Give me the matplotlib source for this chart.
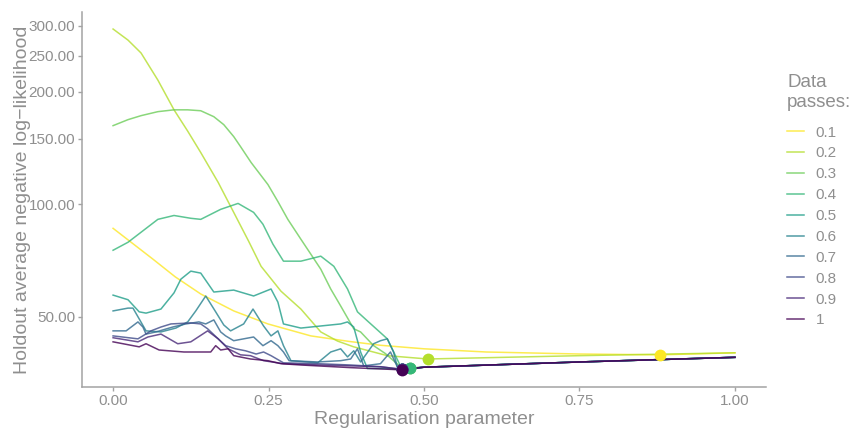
import numpy as np
import matplotlib
matplotlib.use("Agg")
import matplotlib.pyplot as plt

plt.rcParams['font.family'] = ['Liberation Sans', 'DejaVu Sans']

# data passes and their colours (viridis, reversed so 0.1 is yellow)
passes = ['0.1', '0.2', '0.3', '0.4', '0.5', '0.6', '0.7', '0.8', '0.9', '1']
colours = ['#FDE725', '#B4DE2C', '#6DCD59', '#35B779', '#1F9E89',
           '#26828E', '#31688E', '#3E4A89', '#482878', '#440154']

# regularisation parameter / holdout loss per data pass
x01 = [0, 0.032, 0.064, 0.10, 0.141, 0.194, 0.249, 0.318, 0.38, 0.43, 0.5, 0.6, 0.75, 0.88, 1.0]
y01 = [86.3, 78.5, 71.4, 64.0, 57.6, 51.9, 47.9, 44.5, 43.0, 42.0, 41.1, 40.3, 39.8, 39.6, 40.1]

x02 = [0, 0.024, 0.045, 0.072, 0.098, 0.120, 0.141, 0.169, 0.194, 0.218, 0.238, 0.27,
       0.302, 0.334, 0.361, 0.387, 0.441, 0.506, 0.751, 1.0]
y02 = [294.4, 275.0, 254.0, 215.0, 179.0, 157.0, 137.6, 114.5, 95.2, 79.7, 68.3, 58.6,
       52.5, 45.6, 43.1, 41.6, 39.4, 38.6, 39.4, 40.1]

x03 = [0, 0.024, 0.045, 0.072, 0.098, 0.120, 0.141, 0.162, 0.178, 0.194, 0.205, 0.222,
       0.249, 0.265, 0.281, 0.302, 0.318, 0.334, 0.350, 0.366, 0.387, 0.398, 0.419,
       0.438, 0.462, 0.477, 0.5, 0.75, 1.0]
y03 = [162.4, 168.5, 172.7, 177.0, 179.0, 179.0, 178.0, 171.6, 163.4, 151.8, 142.7, 129.4,
       113.0, 101.8, 91.2, 80.7, 73.6, 67.1, 59.4, 53.5, 46.5, 45.6, 41.9,
       39.9, 36.8, 36.5, 36.7, 37.9, 39.0]

x04 = [0, 0.024, 0.072, 0.098, 0.125, 0.141, 0.173, 0.201, 0.226, 0.241, 0.257, 0.274,
       0.302, 0.334, 0.355, 0.377, 0.393, 0.409, 0.441, 0.462, 0.477, 0.5, 0.75, 1.0]
y04 = [75.4, 79.2, 91.2, 93.4, 91.8, 91.2, 97.0, 100.6, 95.2, 88.5, 78.3, 70.5,
       70.5, 72.7, 68.3, 59.4, 51.6, 48.8, 43.7, 37.0, 36.5, 36.7, 37.9, 39.0]

x05 = [0, 0.024, 0.042, 0.053, 0.077, 0.098, 0.109, 0.125, 0.141, 0.162, 0.194, 0.226,
       0.254, 0.265, 0.274, 0.302, 0.334, 0.366, 0.377, 0.387, 0.398, 0.409, 0.44, 0.465,
       0.5, 0.75, 1.0]
y05 = [57.2, 55.6, 51.6, 51.2, 52.5, 58.0, 63.1, 66.3, 65.5, 58.3, 59.0, 56.9,
       59.4, 54.8, 47.9, 46.7, 47.3, 47.9, 48.5, 47.0, 40.3, 36.4, 36.4, 36.2,
       36.7, 37.9, 39.0]

x06 = [0, 0.024, 0.032, 0.042, 0.053, 0.077, 0.101, 0.120, 0.133, 0.149, 0.165, 0.178,
       0.189, 0.210, 0.225, 0.242, 0.254, 0.265, 0.274, 0.286, 0.329, 0.350, 0.366, 0.377,
       0.387, 0.398, 0.419, 0.430, 0.441, 0.451, 0.457, 0.465, 0.5, 0.75, 1.0]
y06 = [51.9, 52.8, 52.8, 49.4, 45.9, 45.6, 46.7, 48.5, 51.9, 56.9, 51.6, 47.6,
       45.9, 47.9, 52.5, 47.3, 44.5, 45.9, 41.9, 38.2, 37.7, 40.3, 41.1, 39.1,
       40.6, 37.9, 42.4, 43.2, 43.7, 40.3, 36.8, 36.2, 36.7, 37.9, 39.0]

x07 = [0, 0.021, 0.040, 0.048, 0.053, 0.069, 0.096, 0.117, 0.138, 0.149, 0.162, 0.173,
       0.181, 0.194, 0.210, 0.226, 0.241, 0.254, 0.265, 0.274, 0.283, 0.329, 0.366, 0.382,
       0.393, 0.403, 0.430, 0.446, 0.457, 0.465, 0.5, 0.75, 1.0]
y07 = [45.9, 45.9, 48.5, 47.0, 45.0, 45.6, 47.0, 47.9, 48.5, 47.9, 49.1, 45.6,
       44.5, 43.2, 43.7, 44.2, 41.9, 43.2, 41.9, 40.3, 38.2, 37.9, 38.2, 38.6,
       41.1, 37.0, 37.5, 40.3, 36.8, 36.2, 36.7, 37.9, 39.0]

x08 = [0, 0.040, 0.061, 0.077, 0.093, 0.125, 0.141, 0.152, 0.169, 0.181, 0.197, 0.213,
       0.230, 0.242, 0.254, 0.274, 0.329, 0.382, 0.430, 0.465, 0.5, 0.75, 1.0]
y08 = [44.5, 43.7, 45.9, 47.0, 47.9, 48.2, 47.9, 46.5, 43.7, 41.9, 41.1, 40.6,
       39.8, 40.3, 39.4, 37.7, 37.5, 37.2, 36.8, 36.2, 36.7, 37.9, 39.0]

x09 = [0, 0.040, 0.056, 0.077, 0.104, 0.125, 0.152, 0.169, 0.185, 0.205, 0.221, 0.242,
       0.274, 0.334, 0.430, 0.465, 0.5, 0.75, 1.0]
y09 = [44.0, 42.9, 44.2, 45.0, 42.4, 42.9, 45.9, 43.7, 41.1, 39.6, 39.4, 38.2,
       37.5, 37.2, 36.8, 36.2, 36.7, 37.9, 39.0]

x10 = [0, 0.042, 0.053, 0.074, 0.114, 0.157, 0.165, 0.173, 0.185, 0.194, 0.221, 0.249,
       0.270, 0.302, 0.382, 0.465, 0.5, 0.75, 1.0]
y10 = [42.9, 41.6, 42.4, 40.8, 40.3, 40.3, 41.9, 40.8, 41.1, 39.4, 38.6, 38.2,
       37.5, 37.2, 36.6, 36.1, 36.7, 37.9, 39.0]

xs = [x01, x02, x03, x04, x05, x06, x07, x08, x09, x10]
ys = [y01, y02, y03, y04, y05, y06, y07, y08, y09, y10]

fig = plt.figure(figsize=(8.54, 4.28), dpi=100)
ax = fig.add_axes([0.096, 0.096, 0.801, 0.876])

grey = '#8f8f8f'

handles = []
for xv, yv, lab, col in zip(xs, ys, passes, colours):
    ln, = ax.plot(xv, yv, color=col, lw=1.1, alpha=0.8, label=lab)
    handles.append(ln)

# best regularisation value for each pass
for xv, yv, col in zip(xs, ys, colours):
    i = int(np.argmin(yv))
    ax.plot(xv[i], yv[i], 'o', color=col, ms=8.5, mec='none', zorder=5)

ax.set_yscale('log')
allv = np.concatenate([np.array(v) for v in ys])
lo, hi = np.log(allv.min()), np.log(allv.max())
pad = 0.05 * (hi - lo)
ax.set_ylim(np.exp(lo - pad), np.exp(hi + pad))
ax.set_xlim(-0.05, 1.05)

yticks = [50, 100, 150, 200, 250, 300]
ax.set_yticks(yticks)
ax.set_yticklabels(['%.2f' % t for t in yticks])
ax.yaxis.set_minor_locator(matplotlib.ticker.NullLocator())
xticks = [0, 0.25, 0.5, 0.75, 1.0]
ax.set_xticks(xticks)
ax.set_xticklabels(['%.2f' % t for t in xticks])

for s in ['top', 'right']:
    ax.spines[s].set_visible(False)
for s in ['left', 'bottom']:
    ax.spines[s].set_color('#a3a3a3')
    ax.spines[s].set_linewidth(1.1)
ax.tick_params(colors='#a3a3a3', labelcolor=grey, labelsize=11, length=3, width=1, pad=2)

ax.set_xlabel('Regularisation parameter', fontsize=14, color=grey, labelpad=2)
ax.set_ylabel('Holdout average negative log\u2212likelihood', fontsize=14, color=grey, labelpad=-2)

leg = ax.legend(handles=handles, title='Data\npasses:', loc='upper left',
                bbox_to_anchor=(0.9056, 0.859), bbox_transform=fig.transFigure,
                frameon=False, fontsize=11, title_fontsize=13.5, handlelength=1.1,
                handletextpad=0.75, labelspacing=0.45, alignment='left')
leg._legend_box.sep = 10.7
leg.get_title().set_color(grey)
for t in leg.get_texts():
    t.set_color(grey)

fig.savefig('out.png', dpi=100)
